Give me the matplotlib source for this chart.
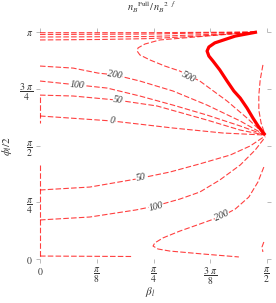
import numpy as np
import matplotlib
matplotlib.use('Agg')
import matplotlib.pyplot as plt

plt.rcParams['mathtext.fontset'] = 'stix'
plt.rcParams['font.family'] = 'Liberation Serif'

PI = np.pi

# contour lines, in units of pi: (beta_l/pi, (phi_l/2)/pi)
top1_x = [0.0, 0.242, 0.478]
top1_y = [0.997, 0.997, 1.0]
top2_x = [0.0, 0.242, 0.478]
top2_y = [0.989, 0.991, 1.0]
top3_x = [0.0, 0.242, 0.396, 0.478]
top3_y = [0.978, 0.980, 0.991, 1.0]
top4_x = [0.0, 0.132, 0.242, 0.352, 0.478]
top4_y = [0.965, 0.967, 0.971, 0.982, 1.0]

c500_x = [0.478, 0.396, 0.330, 0.264, 0.231, 0.216, 0.214, 0.220, 0.242, 0.275, 0.308, 0.352, 0.412, 0.456, 0.496]
c500_y = [1.0, 0.987, 0.976, 0.965, 0.947, 0.930, 0.916, 0.899, 0.877, 0.850, 0.828, 0.784, 0.696, 0.621, 0.546]

full_x = [0.478, 0.430, 0.385, 0.372, 0.368, 0.372, 0.381, 0.396, 0.412, 0.427, 0.441, 0.456, 0.469, 0.482, 0.496]
full_y = [1.0, 0.982, 0.952, 0.934, 0.916, 0.894, 0.872, 0.833, 0.784, 0.740, 0.709, 0.665, 0.621, 0.581, 0.546]

c200_up_x = [0.0, 0.073, 0.128, 0.165, 0.220, 0.293, 0.368, 0.441, 0.496]
c200_up_y = [0.850, 0.841, 0.819, 0.811, 0.784, 0.740, 0.678, 0.608, 0.546]
c100_up_x = [0.0, 0.082, 0.148, 0.220, 0.293, 0.368, 0.441, 0.496]
c100_up_y = [0.784, 0.767, 0.753, 0.718, 0.678, 0.634, 0.586, 0.546]
c50_up_x = [0.0, 0.073, 0.170, 0.258, 0.368, 0.441, 0.496]
c50_up_y = [0.722, 0.718, 0.700, 0.674, 0.612, 0.568, 0.546]
c0_x = [0.0, 0.159, 0.293, 0.403, 0.496]
c0_y = [0.630, 0.608, 0.577, 0.555, 0.546]

c50_lo_x = [0.0, 0.110, 0.211, 0.286, 0.352, 0.419, 0.463, 0.496]
c50_lo_y = [0.304, 0.317, 0.352, 0.383, 0.419, 0.458, 0.498, 0.542]
c100_lo_x = [0.0, 0.110, 0.211, 0.253, 0.308, 0.352, 0.396, 0.441, 0.474, 0.496]
c100_lo_y = [0.172, 0.185, 0.216, 0.233, 0.264, 0.295, 0.348, 0.414, 0.480, 0.537]
c200_lo_x = [0.493, 0.480, 0.460, 0.430, 0.401, 0.352, 0.308, 0.271, 0.253, 0.249, 0.260, 0.286, 0.359, 0.438]
c200_lo_y = [0.405, 0.339, 0.273, 0.220, 0.189, 0.154, 0.123, 0.093, 0.071, 0.057, 0.044, 0.035, 0.022, 0.009]

bottom_x = [0.0, 0.205]
bottom_y = [0.013, 0.011]
left_a_x = [0.0, 0.0]
left_a_y = [0.714, 0.599]
left_b_x = [0.0, 0.0]
left_b_y = [0.414, 0.009]
right_arc_x = [0.491, 0.485, 0.482, 0.482, 0.487, 0.496]
right_arc_y = [0.855, 0.789, 0.722, 0.656, 0.599, 0.546]
corner_arc_x = [0.493, 0.489, 0.491]
corner_arc_y = [0.075, 0.053, 0.031]

# contour labels: text, x, y, rotation
label_text = ['200', '100', '50', '0', '500', '50', '100', '200']
label_x = [0.165, 0.082, 0.172, 0.159, 0.326, 0.222, 0.256, 0.401]
label_y = [0.811, 0.767, 0.700, 0.608, 0.802, 0.357, 0.229, 0.189]
label_rot = [-10, -5, -7, -5, -27, 12, 14, 24]

xticks = [0, 1/8, 1/4, 3/8, 1/2]
xticklabels = ['$0$', r'$\dfrac{\pi}{8}$', r'$\dfrac{\pi}{4}$', r'$\dfrac{3\ \pi}{8}$', r'$\dfrac{\pi}{2}$']
yticks = [0, 1/4, 1/2, 3/4, 1]
yticklabels = ['$0$', r'$\dfrac{\pi}{4}$', r'$\dfrac{\pi}{2}$', r'$\dfrac{3\ \pi}{4}$', r'$\pi$']

fig = plt.figure(figsize=(2.76, 3.03), dpi=100)
ax = fig.add_axes([40/276, 44/303, 227/276, 227/303])

dashed = [
    (top1_x, top1_y), (top2_x, top2_y), (top3_x, top3_y), (top4_x, top4_y),
    (c500_x, c500_y), (c200_up_x, c200_up_y), (c100_up_x, c100_up_y),
    (c50_up_x, c50_up_y), (c0_x, c0_y), (c50_lo_x, c50_lo_y),
    (c100_lo_x, c100_lo_y), (c200_lo_x, c200_lo_y), (bottom_x, bottom_y),
    (left_a_x, left_a_y), (left_b_x, left_b_y), (right_arc_x, right_arc_y),
    (corner_arc_x, corner_arc_y),
]
for xs, ys in dashed:
    ax.plot(np.array(xs) * PI, np.array(ys) * PI, color='red', alpha=0.75,
            lw=0.8, dashes=(5, 2), clip_on=False)

ax.plot(np.array(full_x) * PI, np.array(full_y) * PI, color='red', lw=2.3,
        solid_capstyle='butt', clip_on=False, zorder=4)

for t, x, y, r in zip(label_text, label_x, label_y, label_rot):
    ax.text(x * PI, y * PI, t, fontsize=7, style='italic', color='#333333',
            rotation=r, rotation_mode='anchor', ha='center', va='center',
            bbox=dict(facecolor='white', edgecolor='none', pad=0.3), zorder=5)

ax.set_xlim(0, PI / 2)
ax.set_ylim(0, PI)
ax.set_xticks(np.array(xticks) * PI)
ax.set_xticklabels(xticklabels)
ax.set_yticks(np.array(yticks) * PI)
ax.set_yticklabels(yticklabels)
ax.tick_params(which='both', direction='out', length=3, width=0.6, color='#b0b0b0',
               labelsize=7, labelcolor='#333333', pad=2,
               top=True, right=True)
for s in ax.spines.values():
    s.set_visible(False)

ax.set_xlabel(r'$\beta_l$', fontsize=8, color='#333333')
ax.xaxis.set_label_coords(0.485, -0.115)
ax.set_ylabel(r'$\phi_l/2$', fontsize=8, color='#333333')
ax.yaxis.set_label_coords(-0.115, 0.50)

ax.text(0.493, 1.09, r'$n_B{}^{\mathrm{Full}}/\,n_B{}^{2\ \ f}$', transform=ax.transAxes,
        fontsize=7.5, color='#333333', ha='center', va='baseline')

fig.savefig('out.png', dpi=100)
